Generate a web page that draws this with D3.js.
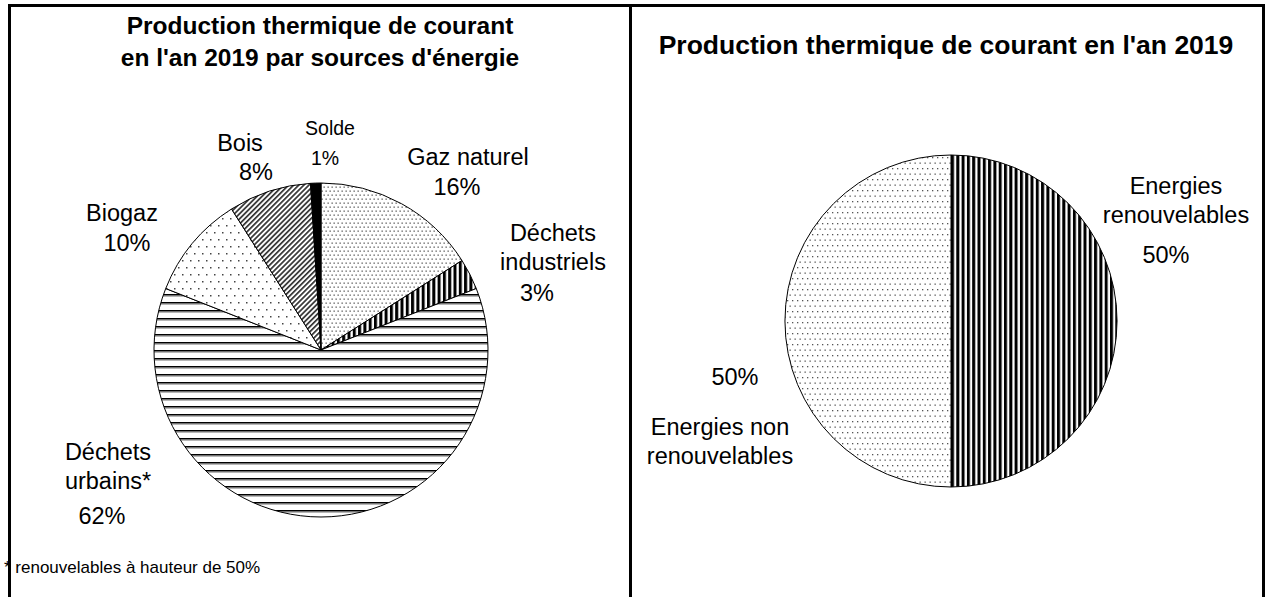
<!DOCTYPE html>
<html>
	<head>
		<meta charset="utf-8">
		<style type="text/css">
			body { margin: 0; background: #fff; font-family: "Liberation Sans", Arial, sans-serif; }
			svg text { fill: #000; }
		</style>
		<title>Production thermique de courant 2019</title>
	</head>
	<body>
		<script src="https://cdn.jsdelivr.net/npm/d3@7"></script>
		<script>

// left pie: clockwise from 12 o'clock
var sources = ["Gaz naturel", "Déchets industriels", "Déchets urbains*", "Biogaz", "Bois", "Solde"];
var sourceValues = [16, 3, 62, 10, 8, 1];
var sourcePatterns = ["dotsFine", "vStripes", "hLines", "dotsSparse", "diag", "solid"];

// right pie
var groups = ["Energies renouvelables", "Energies non renouvelables"];
var groupValues = [50, 50];
var groupPatterns = ["vStripes", "dotsMid"];

var leftTitle = ["Production thermique de courant", "en l'an 2019 par sources d'énergie"];
var rightTitle = "Production thermique de courant en l'an 2019";
var footnote = "* renouvelables à hauteur de 50%";

var W = 1270, H = 597;

var svg = d3.select("body").append("svg")
	.attr("width", W)
	.attr("height", H);

var defs = svg.append("defs");

function pat(id, w, h) {
	return defs.append("pattern")
		.attr("id", id)
		.attr("patternUnits", "userSpaceOnUse")
		.attr("width", w)
		.attr("height", h);
}

var p = pat("dotsFine", 4, 8);
p.append("rect").attr("width", 4).attr("height", 8).attr("fill", "#fff");
p.append("rect").attr("x", 0.5).attr("y", 0.5).attr("width", 1.3).attr("height", 1.3).attr("fill", "#555");
p.append("rect").attr("x", 2.5).attr("y", 4.5).attr("width", 1.3).attr("height", 1.3).attr("fill", "#555");

p = pat("dotsSparse", 8, 14);
p.append("rect").attr("width", 8).attr("height", 14).attr("fill", "#fff");
p.append("rect").attr("x", 1).attr("y", 1).attr("width", 1.5).attr("height", 1.5).attr("fill", "#444");
p.append("rect").attr("x", 5).attr("y", 8).attr("width", 1.5).attr("height", 1.5).attr("fill", "#444");

p = pat("dotsMid", 5, 11);
p.append("rect").attr("width", 5).attr("height", 11).attr("fill", "#fff");
p.append("rect").attr("x", 1).attr("y", 1).attr("width", 1.3).attr("height", 1.3).attr("fill", "#555");
p.append("rect").attr("x", 3.5).attr("y", 6.5).attr("width", 1.3).attr("height", 1.3).attr("fill", "#555");

p = pat("vStripes", 5.3, 10);
p.append("rect").attr("width", 5.3).attr("height", 10).attr("fill", "#fff");
p.append("rect").attr("x", 0).attr("width", 3).attr("height", 10).attr("fill", "#000");

p = pat("hLines", 10, 8);
p.append("rect").attr("width", 10).attr("height", 8).attr("fill", "#fff");
p.append("rect").attr("y", 0).attr("width", 10).attr("height", 1.6).attr("fill", "#000");
p.append("rect").attr("y", 1.6).attr("width", 10).attr("height", 1).attr("fill", "#888");

p = pat("diag", 3.6, 10).attr("patternTransform", "rotate(45)");
p.append("rect").attr("width", 3.6).attr("height", 10).attr("fill", "#fff");
p.append("rect").attr("width", 1.7).attr("height", 10).attr("fill", "#333");

// frame
var frame = svg.append("g").attr("stroke", "#000").attr("stroke-width", 3);
frame.append("line").attr("x1", 8).attr("x2", 1265).attr("y1", 5.5).attr("y2", 5.5);
frame.append("line").attr("x1", 9.5).attr("x2", 9.5).attr("y1", 4).attr("y2", H);
frame.append("line").attr("x1", 630.5).attr("x2", 630.5).attr("y1", 4).attr("y2", H);
frame.append("line").attr("x1", 1263.5).attr("x2", 1263.5).attr("y1", 4).attr("y2", H);

function fillFor(name) {
	return name === "solid" ? "#000" : `url(#${name})`;
}

function drawPie(cx, cy, r, values, patterns) {
	var pie = d3.pie().sort(null).value(d => d)(values);
	var arc = d3.arc().innerRadius(0).outerRadius(r);
	var g = svg.append("g").attr("transform", `translate(${cx},${cy})`);
	g.selectAll("path")
		.data(pie)
		.enter().append("path")
			.attr("d", arc)
			.attr("fill", (d, i) => fillFor(patterns[i]))
			.attr("stroke", "#000")
			.attr("stroke-width", 1);
	return g;
}

drawPie(321, 350, 167, sourceValues, sourcePatterns);
drawPie(951, 321, 166, groupValues, groupPatterns);

// titles
var tl = svg.append("text")
	.attr("text-anchor", "middle")
	.attr("font-weight", "bold")
	.attr("font-size", 24.5);
tl.selectAll("tspan").data(leftTitle).enter().append("tspan")
	.attr("x", 320)
	.attr("y", (d, i) => 34 + i * 32)
	.text(d => d);

svg.append("text")
	.attr("x", 946).attr("y", 54)
	.attr("text-anchor", "middle")
	.attr("font-weight", "bold")
	.attr("font-size", 26.5)
	.text(rightTitle);

// slice labels: [name lines..., percent], positioned by hand
var fmt = d => `${d}%`;
var sourceLabels = [
	{lines: ["Gaz naturel"], x: 468, y: 157, px: 457, py: 187, size: 23.5},
	{lines: ["Déchets", "industriels"], x: 553, y: 233, px: 537, py: 293, size: 23.5},
	{lines: ["Déchets", "urbains*"], x: 108, y: 452, px: 102, py: 516, size: 23.5},
	{lines: ["Biogaz"], x: 122, y: 213, px: 127, py: 243, size: 23.5},
	{lines: ["Bois"], x: 240, y: 143, px: 256, py: 172, size: 23.5},
	{lines: ["Solde"], x: 330, y: 127, px: 325, py: 157, size: 19.5}
];
var groupLabels = [
	{lines: ["Energies", "renouvelables"], x: 1176, y: 186, px: 1166, py: 255, size: 23.5},
	{lines: ["Energies non", "renouvelables"], x: 720, y: 427, px: 735, py: 377, size: 23.5}
];

function drawLabels(labels, values) {
	labels.forEach(function(l, i) {
		var t = svg.append("text")
			.attr("text-anchor", "middle")
			.attr("font-size", l.size);
		l.lines.forEach(function(s, j) {
			t.append("tspan")
				.attr("x", l.x)
				.attr("y", l.y + 8 + j * 29)
				.text(s);
		});
		svg.append("text")
			.attr("text-anchor", "middle")
			.attr("font-size", l.size)
			.attr("x", l.px)
			.attr("y", l.py + 8)
			.text(fmt(values[i]));
	});
}

drawLabels(sourceLabels, sourceValues);
drawLabels(groupLabels, groupValues);

svg.append("text")
	.attr("x", 4).attr("y", 573)
	.attr("font-size", 17)
	.text(footnote);

		</script>
	</body>
</html>
